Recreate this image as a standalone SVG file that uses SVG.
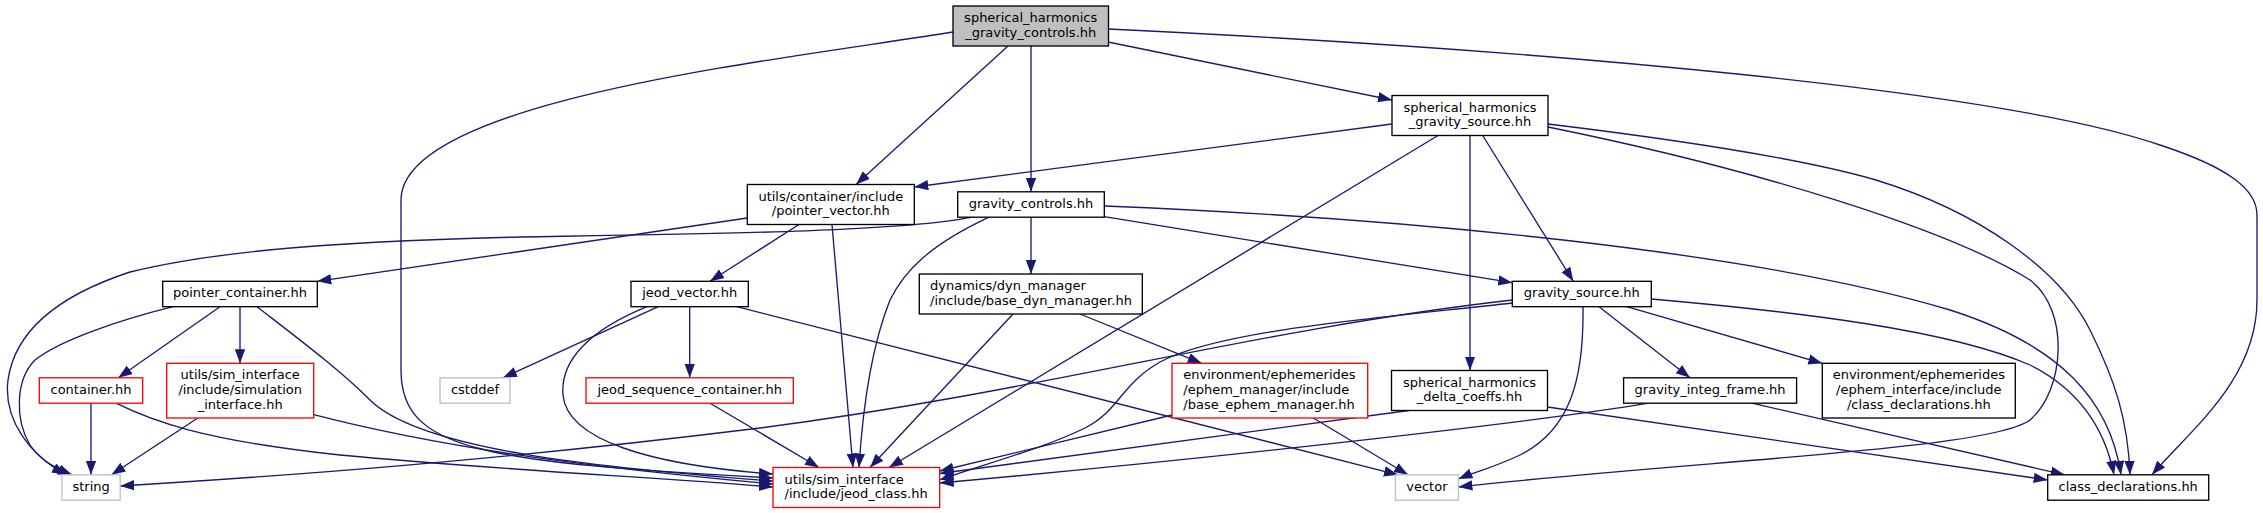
<svg xmlns="http://www.w3.org/2000/svg" width="2263" height="513" viewBox="0 0 2263 513">
<style>
.n rect{fill:#fff;stroke:#000;stroke-width:1.33}
.n.root rect{fill:#bfbfbf}
.n.red rect{stroke:#ff0000}
.n.ext rect{stroke:#bfbfbf}
text{font-family:"DejaVu Sans","Liberation Sans",sans-serif;font-size:13px;fill:#000}
.c{text-anchor:middle}
.e path{fill:none;stroke:#191970;stroke-width:1.33;marker-end:url(#ah)}
</style>
<defs>
<marker id="ah" markerWidth="16" markerHeight="12" refX="14" refY="5.2" orient="auto" markerUnits="userSpaceOnUse">
<path d="M0,0 L14,5.2 L0,10.4 z" fill="#191970" stroke="none"/>
</marker>
</defs>
<rect width="2263" height="513" fill="#fff"/>
<g class="e" id="edges">
<path d="M953,32 C780,60 401,100 401,200 L401,370 C401,450 480,462 773,478"/>
<path d="M1008,46 L856,184.5"/>
<path d="M1031,46 L1031,191.8"/>
<path d="M1108,42 L1392,100"/>
<path d="M1108,29 C1550,50 2000,90 2160,145 C2230,168 2257,190 2257,215 L2257,300 C2257,380 2190,430 2152,474.8"/>
<path d="M1392,124 L914.3,187"/>
<path d="M1438,135.5 L889,467.5"/>
<path d="M1470,135.5 L1470,370.5"/>
<path d="M1482.7,135.5 L1573.3,281.3"/>
<path d="M1548,124 C1680,140 1800,158 1876,180 C1980,212 2060,270 2090,330 C2115,380 2128,420 2130,474.8"/>
<path d="M1548,127 C1760,170 1950,230 2030,280 C2070,310 2065,390 2030,420 C1990,450 1700,460 1458.4,487"/>
<path d="M747.3,218 L317.3,281.3"/>
<path d="M799,224.5 L710,281.3"/>
<path d="M832,224.5 L853,467.5"/>
<path d="M972,217.2 C900,232 700,234 520,237 C300,242 200,255 130,272 C60,295 15,330 8,380 C3,420 30,455 66,474.8"/>
<path d="M989,217.2 C930,245 905,270 890,300 C870,350 862,420 859,467.5"/>
<path d="M1031,217.2 L1031,274"/>
<path d="M1104.3,216.7 L1512.3,282.7"/>
<path d="M1104.3,206 C1400,218 1750,250 1950,310 C2060,345 2110,400 2121,474.8"/>
<path d="M173,306.7 C120,320 60,340 35,360 C15,380 15,420 30,445 C40,460 55,468 72,474.8"/>
<path d="M220,306.7 L118.3,377.8"/>
<path d="M240,306.7 L240,363.3"/>
<path d="M257,306.7 C300,340 340,370 370,400 C420,450 600,468 773,481"/>
<path d="M658.3,306.7 L503,377.8"/>
<path d="M689.7,306.7 L689.7,377.8"/>
<path d="M647,306.7 C590,330 560,360 563,395 C567,440 650,465 773,474"/>
<path d="M736.7,306.7 L1398,474.8"/>
<path d="M1013,314 L870,467.5"/>
<path d="M1080,314 L1201.7,363.3"/>
<path d="M1512.3,300 C1250,330 1050,390 760,428 C500,460 300,475 120.2,486"/>
<path d="M1512.3,303 C1380,318 1220,330 1160,362 C1120,385 1120,410 1085,428 C1040,450 980,465 939.7,480"/>
<path d="M1583,306.7 C1584,380 1570,430 1520,455 C1495,467 1475,472 1458.4,479"/>
<path d="M1599,306.7 L1690,377.8"/>
<path d="M1626.7,306.7 L1822.3,363.3"/>
<path d="M1651.3,299 C1800,312 1950,330 2030,365 C2080,390 2105,430 2114,474.8"/>
<path d="M91,403.2 L91,474.8"/>
<path d="M116,403.2 C150,420 200,440 340,455 C500,470 650,477 773,487"/>
<path d="M197.8,418 L111.5,474.8"/>
<path d="M313.7,414.7 C450,450 600,468 773,484"/>
<path d="M710,403.2 L819,467.5"/>
<path d="M1172,415 L939.7,471"/>
<path d="M1313.3,418 L1408,474.8"/>
<path d="M1409,410.5 L939.7,473.5"/>
<path d="M1547.5,407 L2047.7,480"/>
<path d="M1648,403.2 C1550,420 1250,455 939.7,483"/>
<path d="M1752,403.2 L2064.7,474.8"/>
</g>
<g class="n root" id="node-root"><rect x="953" y="6" width="155.5" height="40"/><text class="c" x="1030.7" y="22">spherical_harmonics</text><text class="c" x="1030.7" y="36.7">_gravity_controls.hh</text></g>
<g class="n" id="node-shgs"><rect x="1392" y="95.5" width="156" height="40"/><text class="c" x="1470" y="111.5">spherical_harmonics</text><text class="c" x="1470" y="126.2">_gravity_source.hh</text></g>
<g class="n" id="node-pointer-vector"><rect x="747.3" y="184.5" width="167" height="40"/><text class="c" x="830.8" y="200.5">utils/container/include</text><text class="c" x="830.8" y="215.2">/pointer_vector.hh</text></g>
<g class="n" id="node-gravity-controls"><rect x="957.7" y="191.8" width="146.6" height="25.4"/><text class="c" x="1031" y="207.8">gravity_controls.hh</text></g>
<g class="n" id="node-pointer-container"><rect x="162.7" y="281.3" width="154.6" height="25.4"/><text class="c" x="240" y="297.3">pointer_container.hh</text></g>
<g class="n" id="node-jeod-vector"><rect x="631" y="281.3" width="117.3" height="25.4"/><text class="c" x="689.7" y="297.3">jeod_vector.hh</text></g>
<g class="n" id="node-base-dyn-manager"><rect x="919.3" y="274" width="223" height="40"/><text x="930" y="290">dynamics/dyn_manager</text><text x="930" y="304.7">/include/base_dyn_manager.hh</text></g>
<g class="n" id="node-gravity-source"><rect x="1512.3" y="281.3" width="139" height="25.4"/><text class="c" x="1581.8" y="297.3">gravity_source.hh</text></g>
<g class="n red" id="node-container"><rect x="39.3" y="377.8" width="103.4" height="25.4"/><text class="c" x="91" y="393.8">container.hh</text></g>
<g class="n red" id="node-simulation-interface"><rect x="166.7" y="363.3" width="147" height="54.7"/><text class="c" x="240.2" y="379.3">utils/sim_interface</text><text class="c" x="240.2" y="394">/include/simulation</text><text class="c" x="240.2" y="408.7">_interface.hh</text></g>
<g class="n ext" id="node-cstddef"><rect x="440" y="377.8" width="70" height="25.4"/><text class="c" x="475" y="393.8">cstddef</text></g>
<g class="n red" id="node-jeod-sequence-container"><rect x="586" y="377.8" width="207.3" height="25.4"/><text class="c" x="689.7" y="393.8">jeod_sequence_container.hh</text></g>
<g class="n red" id="node-base-ephem-manager"><rect x="1172" y="363.3" width="195.7" height="54.7"/><text x="1183.3" y="379.3">environment/ephemerides</text><text x="1183.3" y="394">/ephem_manager/include</text><text x="1183.3" y="408.7">/base_ephem_manager.hh</text></g>
<g class="n" id="node-delta-coeffs"><rect x="1391.5" y="370.5" width="156" height="40"/><text class="c" x="1469.5" y="386.5">spherical_harmonics</text><text class="c" x="1469.5" y="401.2">_delta_coeffs.hh</text></g>
<g class="n" id="node-gravity-integ-frame"><rect x="1623.6" y="377.8" width="173" height="25.4"/><text class="c" x="1710.1" y="393.8">gravity_integ_frame.hh</text></g>
<g class="n" id="node-ephem-interface"><rect x="1822.3" y="363.3" width="193" height="54.7"/><text class="c" x="1918.8" y="379.3">environment/ephemerides</text><text class="c" x="1918.8" y="394">/ephem_interface/include</text><text class="c" x="1918.8" y="408.7">/class_declarations.hh</text></g>
<g class="n ext" id="node-string"><rect x="62" y="474.8" width="58.2" height="25.4"/><text class="c" x="91.1" y="490.8">string</text></g>
<g class="n red" id="node-jeod-class"><rect x="773" y="467.5" width="166.7" height="40"/><text x="784.6" y="483.5">utils/sim_interface</text><text x="784.6" y="498.2">/include/jeod_class.hh</text></g>
<g class="n ext" id="node-vector"><rect x="1395.4" y="474.8" width="63" height="25.4"/><text class="c" x="1426.9" y="490.8">vector</text></g>
<g class="n" id="node-class-declarations"><rect x="2047.7" y="474.8" width="161" height="25.4"/><text class="c" x="2128.2" y="490.8">class_declarations.hh</text></g>
</svg>
